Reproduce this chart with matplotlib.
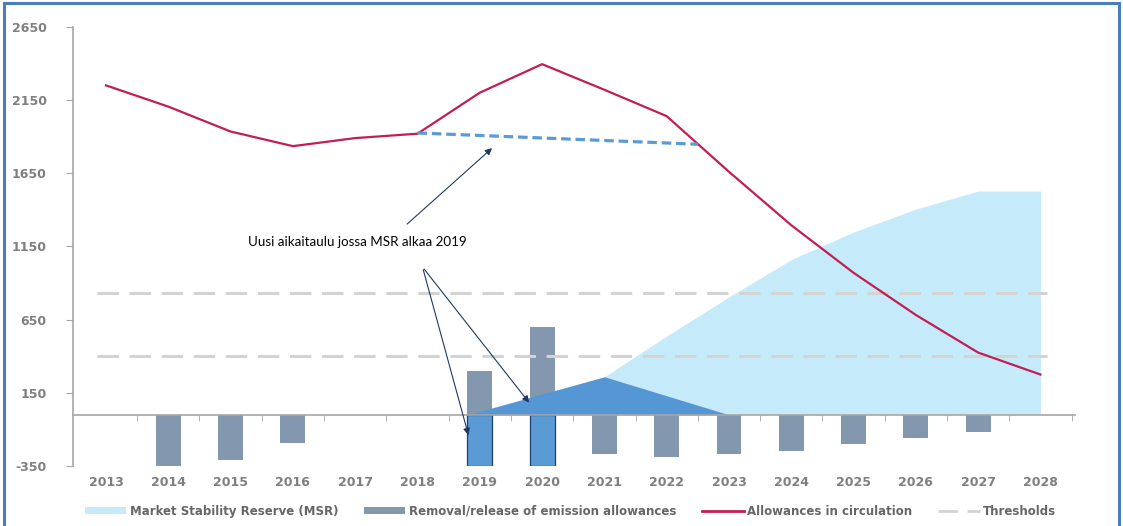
import matplotlib
matplotlib.use("Agg")
from matplotlib import pyplot as plt
from matplotlib.patches import Patch, Rectangle
from matplotlib.lines import Line2D

years = list(range(2013, 2029))
year_labels = [str(y) for y in years]

# allowances in circulation (red line)
circulation = [2250, 2105, 1935, 1835, 1890, 1920, 2200, 2395, 2220, 2040,
               1660, 1295, 970, 682, 425, 275]

# removal / release of emission allowances (grey bars)
removal = [0, -355, -307, -196, 0, 0, 300, 600, -265, -285, -265, -245,
           -198, -157, -116, 0]

# new schedule: release bars 2019/2020 (blue)
new_years = [2019, 2020]
new_bars = [-350, -350]

# original MSR (light blue area)
msr_years = [2021, 2022, 2023, 2024, 2025, 2026, 2027, 2028]
msr = [260, 538, 805, 1060, 1248, 1405, 1528, 1528]

# new MSR starting 2019 (dark blue triangle)
new_msr_years = [2018.8, 2021, 2023]
new_msr = [0, 260, 0]

# new circulation path (blue dashed)
new_path_years = [2018, 2022.5]
new_path = [1925, 1848]

thresholds = [833, 400]

yticks = [-350, 150, 650, 1150, 1650, 2150, 2650]

grey_txt = "#7f7f7f"
axis_col = "#a6a6a6"

fig = plt.figure(figsize=(11.23, 5.26), dpi=100)
ax = fig.add_axes([0.065, 0.114, 0.892, 0.835])

ax.fill_between(msr_years, 0, msr, color="#c5ebfa", lw=0, zorder=1)
ax.bar(years, removal, width=0.4, color="#8398ae", zorder=2)
ax.bar(new_years, new_bars, width=0.4, color="#5b9bd5", edgecolor="#1f3f6e",
       linewidth=0.9, zorder=3)
ax.fill_between(new_msr_years, 0, new_msr, color="#5597d4", lw=0, zorder=4)
for t in thresholds:
    ax.plot([2012.85, 2028.1], [t, t], color="#d3d3d3", lw=2.2,
            dashes=(7, 3.5), zorder=5)
ax.plot(years, circulation, color="#c21e56", lw=1.6, zorder=6)
ax.plot(new_path_years, new_path, color="#5b9bd5", lw=2.3, dashes=(3, 1.5),
        zorder=6)

ax.set_xlim(2012.47, 2028.55)
ax.set_ylim(-350, 2650)

for s in ["top", "right"]:
    ax.spines[s].set_visible(False)
ax.spines["left"].set_color(axis_col)
ax.spines["left"].set_linewidth(1.2)
ax.spines["bottom"].set_position(("data", 0))
ax.spines["bottom"].set_color(axis_col)
ax.spines["bottom"].set_linewidth(1.2)
ax.spines["bottom"].set_zorder(7)

ax.set_yticks(yticks)
ax.set_yticklabels([str(v) for v in yticks])
ax.tick_params(axis="y", length=5, color=axis_col, pad=14, labelsize=9,
               labelcolor=grey_txt)
ax.set_xticks(years)
ax.set_xticklabels(year_labels)
ax.set_xticks([y + 0.5 for y in years], minor=True)
ax.tick_params(axis="x", which="major", length=0, pad=44, labelsize=9,
               labelcolor=grey_txt)
ax.tick_params(axis="x", which="minor", length=4, color=axis_col, direction="out")
for lab in ax.get_xticklabels() + ax.get_yticklabels():
    lab.set_fontweight("bold")

# annotation
ax.text(2015.28, 1180, "Uusi aikaitaulu jossa MSR alkaa 2019", family="Lato",
        fontsize=9.6, color="black", va="center", ha="left", zorder=8)
arrow = dict(arrowstyle="-|>", color="#1f3864", lw=0.8, mutation_scale=10)
ax.annotate("", xy=(2019.23, 1834), xytext=(2017.8, 1290), arrowprops=arrow,
            zorder=8)
ax.annotate("", xy=(2018.83, -157), xytext=(2018.08, 1010), arrowprops=arrow,
            zorder=8)
ax.annotate("", xy=(2019.82, 68), xytext=(2018.08, 1010), arrowprops=arrow,
            zorder=8)

handles = [
    Patch(facecolor="#c5ebfa", edgecolor="none"),
    Patch(facecolor="#8398ae", edgecolor="none"),
    Line2D([], [], color="#c21e56", lw=2),
    Line2D([], [], color="#d3d3d3", lw=2, dashes=(7, 3.5)),
]
labels = ["Market Stability Reserve (MSR)",
          "Removal/release of emission allowances",
          "Allowances in circulation", "Thresholds"]
leg = fig.legend(handles, labels, loc="center", bbox_to_anchor=(0.508, 0.028),
                 ncol=4, frameon=False, handlelength=3.5, handleheight=0.6,
                 columnspacing=2.2, handletextpad=0.3,
                 prop={"weight": "bold", "size": 8.5})
for t in leg.get_texts():
    t.set_color("#666666")

fig.patches.append(Rectangle((0.004, -0.02), 0.992, 1.015,
                             transform=fig.transFigure, fill=False,
                             edgecolor="#4a7ebb", lw=2.2))

fig.savefig("out.png", dpi=100)
